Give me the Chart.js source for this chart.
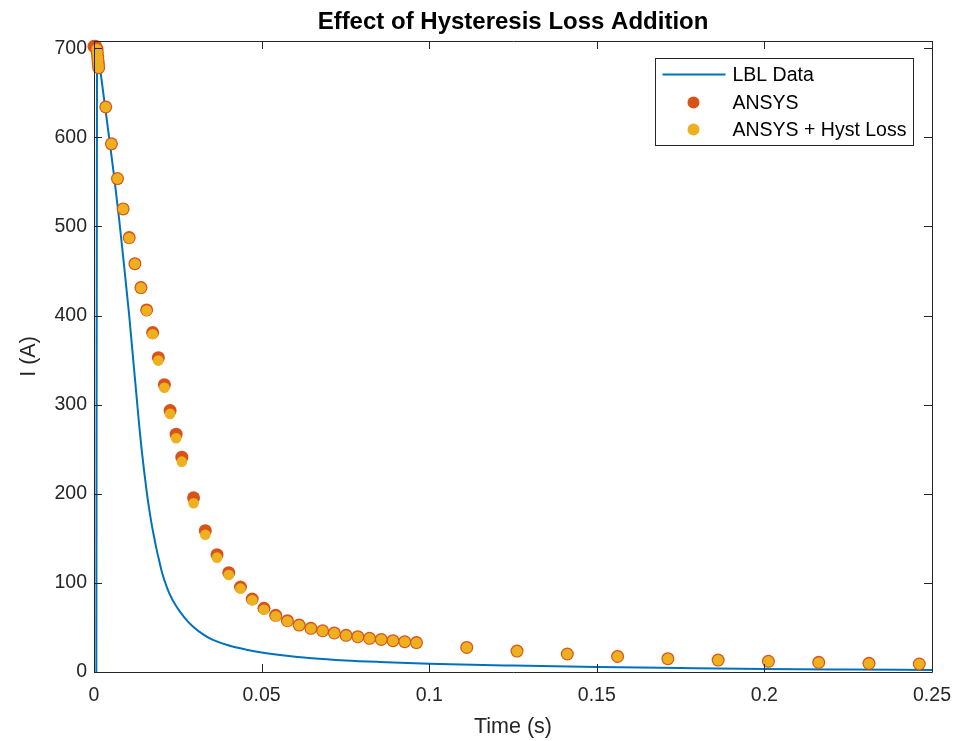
<!DOCTYPE html>
<html>
<head>
<meta charset="utf-8">
<script src="https://cdn.jsdelivr.net/npm/chart.js@4.4.1/dist/chart.umd.min.js"></script>
<style>
  body { margin: 0; background: #fff; }
  canvas { display: block; }
</style>
</head>
<body>
<canvas id="hystChart" width="955" height="741"></canvas>
<script>
// LBL measured current (line)
const timeLBL = [0.0007, 0.0009, 0.0011, 0.0020, 0.0030, 0.0045, 0.0060, 0.0075, 0.0090, 0.0105,
    0.0120, 0.0128, 0.0135, 0.0142, 0.0150, 0.0157, 0.0165, 0.0172, 0.0180, 0.0187,
    0.0195, 0.0202, 0.0210, 0.0225, 0.0245, 0.0270, 0.0295, 0.0330, 0.0355, 0.0400,
    0.0455, 0.0500, 0.0555, 0.0650, 0.0750, 0.0850, 0.1000, 0.1250, 0.1500, 0.1750,
    0.2000, 0.2250, 0.2500];
const currentLBL = [0, 690, 700, 672, 643, 600, 556, 508, 455, 400,
    338, 305, 276, 250, 224, 203, 182, 166, 150, 137,
    124, 113, 103, 88, 74, 61, 51, 41, 36, 30,
    25, 21.8, 19, 15.5, 13, 11.3, 9.3, 7.2, 5.6, 4.5,
    3.5, 2.8, 2.2];

// ANSYS simulation
const timeAnsys = [0, 0.0003, 0.0006, 0.0009, 0.0010, 0.0011, 0.0012, 0.0013, 0.0014,
    0.0035, 0.0052, 0.0070, 0.0087, 0.0105, 0.0122, 0.0140, 0.0157, 0.0175, 0.0192,
    0.0210, 0.0227, 0.0245, 0.0262, 0.0297, 0.0332, 0.0367, 0.0402, 0.0437, 0.0472,
    0.0507, 0.0542, 0.0577, 0.0612, 0.0647, 0.0682, 0.0717, 0.0752, 0.0787, 0.0822,
    0.0857, 0.0892, 0.0927, 0.0962, 0.1112, 0.1262, 0.1412, 0.1562, 0.1712, 0.1862,
    0.2012, 0.2162, 0.2312, 0.2462];
const currentAnsys = [702, 702, 701.5, 699, 695, 690, 686, 682, 678,
    634, 592.6, 553.6, 519.6, 487.4, 458.2, 431.3, 406.3, 380.8, 352.7,
    322.4, 293.3, 266.8, 241, 195.4, 158.6, 131.6, 111.4, 95.4, 81.9,
    71.5, 63.6, 57.6, 52.7, 49, 46.3, 43.8, 41.2, 39.6, 37.8,
    36.5, 35.2, 34, 33, 27.6, 23.5, 20.2, 17.5, 15, 13.4,
    12, 10.8, 9.7, 9];

// ANSYS + hysteresis loss
const timeHyst = [0.0008, 0.0010, 0.0011, 0.0012, 0.0013, 0.0014,
    0.0035, 0.0052, 0.0070, 0.0087, 0.0105, 0.0122, 0.0140, 0.0157, 0.0175, 0.0192,
    0.0210, 0.0227, 0.0245, 0.0262, 0.0297, 0.0332, 0.0367, 0.0402, 0.0437, 0.0472,
    0.0507, 0.0542, 0.0577, 0.0612, 0.0647, 0.0682, 0.0717, 0.0752, 0.0787, 0.0822,
    0.0857, 0.0892, 0.0927, 0.0962, 0.1112, 0.1262, 0.1412, 0.1562, 0.1712, 0.1862,
    0.2012, 0.2162, 0.2312, 0.2462];
const currentHyst = [699, 695, 690, 686, 682, 678,
    634, 592.6, 553.6, 519.6, 487, 458, 431, 405.5, 379, 349.4,
    319, 289.6, 262.3, 236, 189.3, 154, 128.3, 108.9, 93.5, 80.5,
    69.9, 62.5, 57, 52.4, 48.8, 46.1, 43.6, 41, 39.4, 37.7,
    36.4, 35.1, 33.9, 32.9, 27.5, 23.4, 20.1, 17.4, 14.9, 13.3,
    11.9, 10.7, 9.6, 8.9];

const xTicks = [0, 0.05, 0.1, 0.15, 0.2, 0.25];
const yTicks = [0, 100, 200, 300, 400, 500, 600, 700];

const FONT = "'Liberation Sans', Arial, Helvetica, sans-serif";
const AXIS_COLOR = '#262626';

function toPoints(xs, ys) {
    return xs.map((x, i) => ({ x: x, y: ys[i] }));
}

// box around the axes with inward ticks, like MATLAB
const boxPlugin = {
    id: 'boxPlugin',
    afterDatasetsDraw(chart) {
        const ctx = chart.ctx;
        const a = chart.chartArea;
        const xs = chart.scales.x;
        const ys = chart.scales.y;
        const len = 8;
        ctx.save();
        ctx.strokeStyle = AXIS_COLOR;
        ctx.lineWidth = 1;
        ctx.beginPath();
        ctx.rect(Math.round(a.left) + 0.5, Math.round(a.top) + 0.5,
            Math.round(a.right - a.left), Math.round(a.bottom - a.top));
        xTicks.forEach(v => {
            const px = Math.round(xs.getPixelForValue(v)) + 0.5;
            ctx.moveTo(px, a.bottom);
            ctx.lineTo(px, a.bottom - len);
            ctx.moveTo(px, a.top);
            ctx.lineTo(px, a.top + len);
        });
        yTicks.forEach(v => {
            const py = Math.round(ys.getPixelForValue(v)) + 0.5;
            ctx.moveTo(a.left, py);
            ctx.lineTo(a.left + len, py);
            ctx.moveTo(a.right, py);
            ctx.lineTo(a.right - len, py);
        });
        ctx.stroke();
        ctx.restore();
    }
};

// legend box in the top right corner of the axes
const legendPlugin = {
    id: 'legendPlugin',
    afterDraw(chart) {
        const ctx = chart.ctx;
        const a = chart.chartArea;
        const w = 258, h = 87;
        const left = Math.round(a.right - 19 - w) + 0.5;
        const top = Math.round(a.top + 17) + 0.5;
        ctx.save();
        ctx.fillStyle = '#fff';
        ctx.fillRect(left, top, w, h);
        ctx.strokeStyle = AXIS_COLOR;
        ctx.lineWidth = 1;
        ctx.strokeRect(left, top, w, h);
        ctx.font = '19.5px ' + FONT;
        ctx.textBaseline = 'middle';
        ctx.textAlign = 'left';
        const rows = [top + 16, top + 44, top + 71];
        chart.data.datasets.forEach((ds, i) => {
            const y = rows[i];
            if (ds.showLine) {
                ctx.strokeStyle = ds.borderColor;
                ctx.lineWidth = ds.borderWidth;
                ctx.beginPath();
                ctx.moveTo(left + 7, y);
                ctx.lineTo(left + 70, y);
                ctx.stroke();
            } else {
                ctx.fillStyle = ds.backgroundColor;
                ctx.beginPath();
                ctx.arc(left + 38, y, 6, 0, Math.PI * 2);
                ctx.fill();
            }
            ctx.fillStyle = '#000';
            ctx.fillText(ds.label, left + 77, y + 1);
        });
        ctx.restore();
    }
};

new Chart(document.getElementById('hystChart'), {
    type: 'scatter',
    data: {
        datasets: [{
            label: 'LBL Data',
            data: toPoints(timeLBL, currentLBL),
            showLine: true,
            borderColor: '#0072BD',
            borderWidth: 2,
            pointRadius: 0,
            cubicInterpolationMode: 'monotone',
            order: 3
        }, {
            label: 'ANSYS',
            data: toPoints(timeAnsys, currentAnsys),
            backgroundColor: '#D95319',
            borderWidth: 0,
            pointRadius: 6.5,
            clip: false,
            order: 2
        }, {
            label: 'ANSYS + Hyst Loss',
            data: toPoints(timeHyst, currentHyst),
            backgroundColor: '#EDB120',
            borderWidth: 0,
            pointRadius: 5.3,
            clip: false,
            order: 1
        }]
    },
    options: {
        responsive: false,
        animation: false,
        layout: {
            padding: { left: 0, right: 23, top: 0, bottom: 0 }
        },
        plugins: {
            legend: { display: false },
            tooltip: { enabled: false },
            title: {
                display: true,
                fullSize: false,
                text: 'Effect of Hysteresis Loss Addition',
                color: '#000',
                font: { family: FONT, size: 24, weight: 'bold' },
                padding: { top: 8, bottom: 4.2 }
            }
        },
        scales: {
            x: {
                type: 'linear',
                min: 0,
                max: 0.25,
                afterBuildTicks: scale => { scale.ticks = xTicks.map(v => ({ value: v })); },
                afterFit: scale => {
                    scale.height = 69;
                    scale.paddingLeft = 0;
                    scale.paddingRight = 0;
                },
                grid: { display: false, drawTicks: false },
                border: { display: false },
                ticks: {
                    color: AXIS_COLOR,
                    padding: 12,
                    maxRotation: 0,
                    font: { family: FONT, size: 19.5 },
                    callback: v => String(Math.round(v * 100) / 100)
                },
                title: {
                    display: true,
                    text: 'Time (s)',
                    color: AXIS_COLOR,
                    font: { family: FONT, size: 21.5 },
                    padding: { top: 0, bottom: 1 }
                }
            },
            y: {
                min: 0,
                max: 708,
                afterBuildTicks: scale => { scale.ticks = yTicks.map(v => ({ value: v })); },
                afterFit: scale => {
                    scale.width = 94;
                    scale.paddingTop = 0;
                    scale.paddingBottom = 0;
                },
                grid: { display: false, drawTicks: false },
                border: { display: false },
                ticks: {
                    color: AXIS_COLOR,
                    padding: 7,
                    font: { family: FONT, size: 19.5 }
                },
                title: {
                    display: true,
                    text: 'I (A)',
                    color: AXIS_COLOR,
                    font: { family: FONT, size: 21.5 },
                    padding: { top: 16, bottom: 0 }
                }
            }
        }
    },
    plugins: [boxPlugin, legendPlugin]
});
</script>
</body>
</html>
